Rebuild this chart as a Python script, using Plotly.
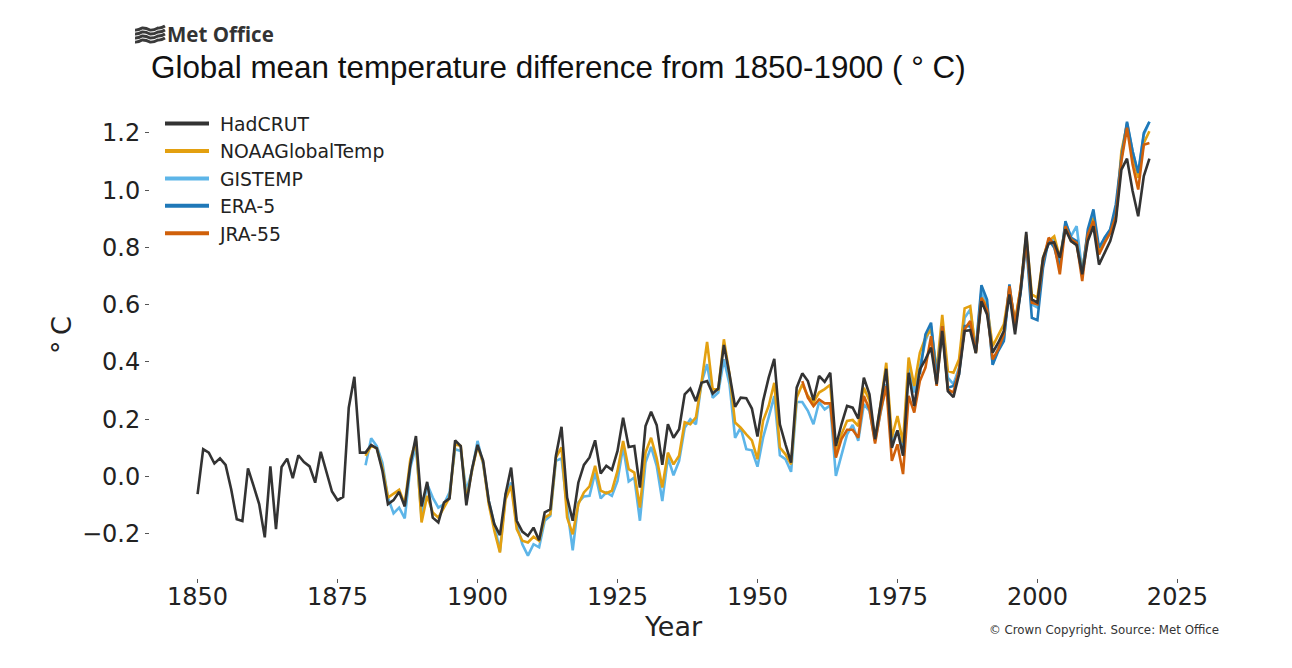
import plotly.graph_objects as go

# values
years = list(range(1850, 2021))

hadcrut = [
    -0.062, 0.095, 0.083, 0.045, 0.063, 0.04, -0.045, -0.15, -0.156, 0.028,
    -0.033, -0.097, -0.213, 0.035, -0.184, 0.033, 0.062, -0.006, 0.074, 0.05,
    0.035, -0.022, 0.086, 0.013, -0.053, -0.083, -0.072, 0.24, 0.348, 0.083,
    0.083, 0.11, 0.098, 0.02, -0.097, -0.083, -0.054, -0.105, 0.042, 0.141,
    -0.105, -0.019, -0.144, -0.161, -0.091, -0.077, 0.126, 0.106, -0.101, 0.025,
    0.11, 0.054, -0.085, -0.167, -0.205, -0.062, 0.031, -0.155, -0.193, -0.208,
    -0.179, -0.223, -0.126, -0.115, 0.072, 0.173, -0.074, -0.155, -0.022, 0.04,
    0.066, 0.126, 0.01, 0.037, 0.023, 0.089, 0.205, 0.103, 0.106, -0.039,
    0.176, 0.226, 0.179, 0.04, 0.182, 0.135, 0.165, 0.287, 0.307, 0.263,
    0.327, 0.333, 0.289, 0.307, 0.459, 0.357, 0.243, 0.275, 0.273, 0.237,
    0.139, 0.263, 0.345, 0.411, 0.182, 0.112, 0.048, 0.31, 0.36, 0.333,
    0.266, 0.351, 0.33, 0.362, 0.106, 0.182, 0.246, 0.24, 0.202, 0.345,
    0.287, 0.13, 0.252, 0.376, 0.1, 0.161, 0.072, 0.362, 0.246, 0.374,
    0.409, 0.45, 0.322, 0.508, 0.298, 0.277, 0.357, 0.508, 0.511, 0.43,
    0.612, 0.566, 0.432, 0.467, 0.508, 0.636, 0.496, 0.647, 0.854, 0.618,
    0.607, 0.764, 0.813, 0.818, 0.764, 0.863, 0.822, 0.808, 0.706, 0.822,
    0.874, 0.74, 0.781, 0.822, 0.892, 1.072, 1.11, 0.997, 0.909, 1.049,
    1.11,
]

# 1880 onwards
noaa = [
    0.072, 0.107, 0.098, 0.03, -0.074, -0.06, -0.047, -0.097, 0.06, 0.124,
    -0.161, -0.068, -0.126, -0.144, -0.109, -0.074, 0.112, 0.106, -0.085, 0.02,
    0.106, 0.048, -0.097, -0.19, -0.266, -0.08, -0.033, -0.184, -0.225, -0.231,
    -0.211, -0.225, -0.144, -0.132, 0.066, 0.101, -0.144, -0.202, -0.097, -0.056,
    -0.035, 0.037, -0.05, -0.059, -0.05, 0.019, 0.124, 0.025, 0.013, -0.109,
    0.083, 0.135, 0.063, -0.039, 0.083, 0.042, 0.072, 0.189, 0.182, 0.206,
    0.327, 0.47, 0.304, 0.304, 0.479, 0.357, 0.188, 0.17, 0.147, 0.126,
    0.06, 0.194, 0.246, 0.327, 0.101, 0.077, 0.042, 0.275, 0.322, 0.281,
    0.258, 0.293, 0.305, 0.32, 0.078, 0.147, 0.194, 0.197, 0.176, 0.31,
    0.264, 0.124, 0.252, 0.397, 0.136, 0.211, 0.118, 0.415, 0.316, 0.432,
    0.485, 0.514, 0.368, 0.564, 0.368, 0.362, 0.409, 0.587, 0.595, 0.432,
    0.624, 0.595, 0.455, 0.496, 0.531, 0.653, 0.543, 0.659, 0.845, 0.636,
    0.624, 0.764, 0.822, 0.839, 0.764, 0.874, 0.822, 0.81, 0.717, 0.851,
    0.903, 0.787, 0.822, 0.851, 0.903, 1.136, 1.229, 1.124, 1.043, 1.165,
    1.206,
]

gistemp = [
    0.039, 0.133, 0.106, 0.048, -0.074, -0.129, -0.109, -0.147, 0.031, 0.106,
    -0.144, -0.027, -0.074, -0.109, -0.097, -0.056, 0.095, 0.089, -0.051, 0.019,
    0.124, 0.042, -0.085, -0.167, -0.262, -0.062, -0.022, -0.167, -0.237, -0.277,
    -0.237, -0.248, -0.155, -0.138, 0.054, 0.063, -0.109, -0.258, -0.091, -0.07,
    -0.068, 0.013, -0.077, -0.056, -0.068, -0.016, 0.103, -0.018, -0.004, -0.155,
    0.048, 0.103, 0.037, -0.086, 0.066, 0.004, 0.054, 0.17, 0.2, 0.182,
    0.327, 0.392, 0.275, 0.293, 0.409, 0.322, 0.135, 0.17, 0.095, 0.091,
    0.034, 0.135, 0.206, 0.281, 0.074, 0.06, 0.016, 0.26, 0.26, 0.229,
    0.182, 0.26, 0.234, 0.248, 0.002, 0.077, 0.147, 0.18, 0.124, 0.252,
    0.229, 0.124, 0.229, 0.322, 0.124, 0.159, 0.1, 0.38, 0.293, 0.386,
    0.473, 0.525, 0.368, 0.508, 0.345, 0.322, 0.38, 0.554, 0.583, 0.438,
    0.648, 0.601, 0.39, 0.45, 0.478, 0.653, 0.531, 0.647, 0.834, 0.601,
    0.59, 0.752, 0.816, 0.834, 0.74, 0.886, 0.839, 0.874, 0.717, 0.845,
    0.915, 0.787, 0.834, 0.863, 0.921, 1.113, 1.235, 1.136, 1.055, 1.194,
    1.239,
]

# 1979 onwards
era5 = [
    0.357, 0.496, 0.537, 0.345, 0.525, 0.31, 0.316, 0.357, 0.525, 0.525, 0.444,
    0.668, 0.618, 0.39, 0.438, 0.473, 0.671, 0.52, 0.642, 0.816, 0.554,
    0.546, 0.729, 0.828, 0.799, 0.729, 0.892, 0.834, 0.822, 0.706, 0.863,
    0.933, 0.799, 0.834, 0.863, 0.95, 1.113, 1.239, 1.136, 1.06, 1.2,
    1.239,
]

# 1958 onwards
jra55 = [
    0.333, 0.275, 0.246, 0.269, 0.255, 0.255, 0.066, 0.13, 0.163, 0.163, 0.135, 0.281,
    0.234, 0.115, 0.229, 0.316, 0.054, 0.112, 0.008, 0.281, 0.223, 0.333,
    0.38, 0.49, 0.316, 0.525, 0.304, 0.293, 0.374, 0.514, 0.543, 0.432,
    0.624, 0.583, 0.409, 0.444, 0.496, 0.665, 0.531, 0.659, 0.822, 0.607,
    0.601, 0.752, 0.834, 0.81, 0.706, 0.874, 0.828, 0.816, 0.682, 0.845,
    0.892, 0.775, 0.816, 0.851, 0.909, 1.101, 1.218, 1.09, 1.002, 1.159,
    1.165,
]

series = [
    ('GISTEMP', years[30:], gistemp, '#5DB5E8', 3),
    ('NOAAGlobalTemp', years[30:], noaa, '#E3A010', 2),
    ('ERA-5', years[129:], era5, '#1F78B8', 4),
    ('JRA-55', years[108:], jra55, '#D0600A', 5),
    ('HadCRUT', years, hadcrut, '#333333', 1),
]

W, H = 1276, 652
OFFSET = 8


def px(x, y):
    # window pixels to paper fractions, only used for the logo and notes
    left, top = 142 + OFFSET, 92 + OFFSET
    return (x - left) / 1047, 1 - (y - top) / 478


def wave(y0):
    pts = [(135, y0 + 1), (142, y0 - 1), (150, y0 + 1), (158, y0 - 1), (165, y0 - 3)]
    x, y = px(*pts[0])
    d = f'M{x:.4f},{y:.4f}'
    for a, b in zip(pts[:-1], pts[1:]):
        cx, cy = px((a[0] + b[0]) / 2, (a[1] + b[1]) / 2 + (a[1] - b[1]) * 0.6)
        ex, ey = px(*b)
        d += f' Q{cx:.4f},{cy:.4f} {ex:.4f},{ey:.4f}'
    return d


fig = go.Figure()

for name, x, y, colour, rank in series:
    fig.add_trace(go.Scatter(
        x=x, y=y, name=name, mode='lines', showlegend=False,
        line=dict(color=colour, width=2.6),
    ))

# legend keys are thicker than the lines in the plot
for name, x, y, colour, rank in series:
    fig.add_trace(go.Scatter(
        x=[None], y=[None], name='\u00a0' + name, mode='lines',
        line=dict(color=colour, width=4),
        legendgroup=name, legendrank=rank,
    ))

for y0 in [29, 33, 37, 41]:
    fig.add_shape(type='path', path=wave(y0), xref='paper', yref='paper',
                  line=dict(color='#3a3a3a', width=2.8), layer='above')

fig.add_annotation(text='<b>Met Office</b>', xref='paper', yref='paper',
                   x=px(165, 0)[0], y=px(0, 34)[1], xanchor='left', yanchor='middle',
                   showarrow=False, font=dict(family='Open Sans', size=20.5, color='#333333'))
fig.add_annotation(text='© Crown Copyright. Source: Met Office', xref='paper', yref='paper',
                   x=px(1221, 0)[0], y=px(0, 630)[1], xanchor='right', yanchor='middle',
                   showarrow=False, font=dict(family='DejaVu Sans', size=11.8, color='#333333'))
fig.add_annotation(text='°\u2009C', xref='paper', yref='paper',
                   x=px(61, 0)[0], y=px(0, 335)[1], xanchor='center', yanchor='middle',
                   textangle=-90, showarrow=False,
                   font=dict(family='DejaVu Sans', size=27, color='#222222'))

fig.update_layout(
    width=W, height=H,
    margin=dict(l=142, r=87, t=92, b=82),
    template='plotly_white',
    plot_bgcolor='white',
    title=dict(text='Global mean temperature difference from 1850-1900 ( ° C)',
               x=151 / W - OFFSET / W, xanchor='left', xref='container',
               y=1 - (67 - OFFSET) / H, yanchor='middle',
               font=dict(family='Liberation Sans', size=31.4, color='#111111')),
    font=dict(family='DejaVu Sans', color='#222222'),
    legend=dict(x=10 / 1047, y=0.99, xanchor='left', yanchor='top', bgcolor='rgba(0,0,0,0)',
                traceorder='grouped', tracegroupgap=0, itemwidth=44,
                font=dict(family='DejaVu Sans', size=18.8, color='#222222')),
)

fig.update_xaxes(range=[1841.5, 2028.5], tickvals=list(range(1850, 2026, 25)),
                 showgrid=False, zeroline=False, showline=False,
                 ticks='outside', ticklen=4, tickcolor='#555555', tickwidth=1,
                 tickfont=dict(size=24), ticklabelstandoff=-7,
                 title=dict(text='Year', font=dict(size=27), standoff=4))
fig.update_yaxes(range=[-0.355, 1.315], tickvals=[-0.2, 0, 0.2, 0.4, 0.6, 0.8, 1.0, 1.2],
                 tickformat='.1f', showgrid=False, zeroline=False, showline=False,
                 ticks='outside', ticklen=4, tickcolor='#555555', tickwidth=1,
                 tickfont=dict(size=24))

fig.write_html('out.html')
